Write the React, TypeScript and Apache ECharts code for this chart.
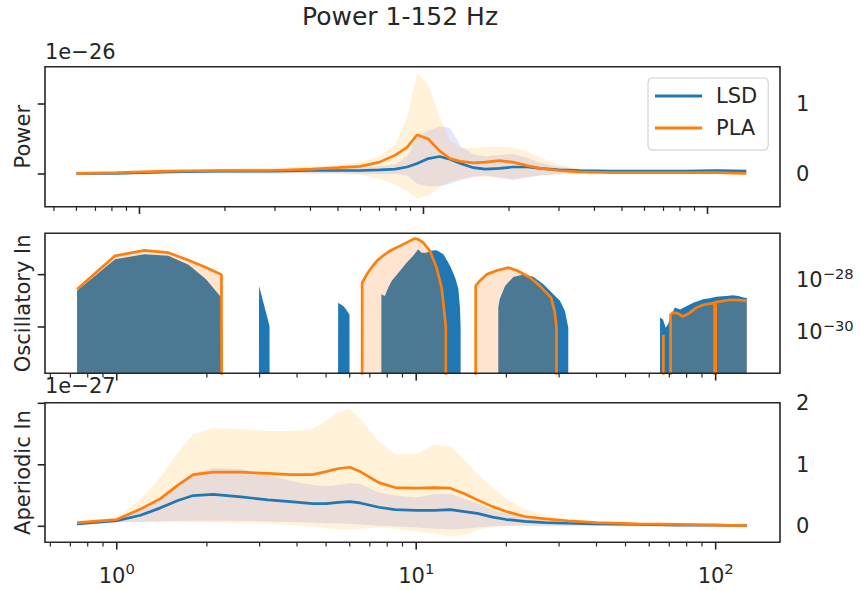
import React, { useEffect, useRef } from 'react';
import * as echarts from 'echarts';

// ---- Power spectrum panel (values in units of 1e-26) ----
const POWER_FREQ = [0.6, 0.83, 1.27, 1.9, 2.85, 4.05, 5.0, 6.0, 7.0, 7.95, 8.75, 9.5, 10.4, 11.4, 12.4, 13.5, 15.0, 16.5, 18.5, 20.6, 23.2, 25.8, 30.0, 35.3, 46.0, 62.0, 84.5, 107.0, 137.0];
const POWER_LSD = [0.01, 0.01, 0.03, 0.04, 0.04, 0.05, 0.05, 0.05, 0.06, 0.07, 0.10, 0.15, 0.22, 0.25, 0.21, 0.15, 0.09, 0.07, 0.08, 0.10, 0.10, 0.08, 0.06, 0.05, 0.04, 0.04, 0.04, 0.05, 0.04];
const POWER_LSD_LO = [0.0, 0.0, 0.01, 0.01, 0.01, 0.01, 0.01, 0.0, 0.0, 0.0, -0.02, -0.14, -0.18, -0.17, -0.14, -0.09, -0.04, -0.02, -0.05, -0.09, -0.05, -0.02, 0.0, 0.01, 0.01, 0.01, 0.01, 0.01, 0.01];
const POWER_LSD_HI = [0.02, 0.02, 0.04, 0.06, 0.06, 0.07, 0.08, 0.09, 0.11, 0.14, 0.25, 0.52, 0.62, 0.68, 0.66, 0.40, 0.28, 0.25, 0.27, 0.29, 0.23, 0.16, 0.10, 0.07, 0.06, 0.06, 0.06, 0.07, 0.06];
const POWER_PLA = [0.01, 0.02, 0.04, 0.05, 0.05, 0.07, 0.09, 0.11, 0.17, 0.27, 0.38, 0.56, 0.50, 0.33, 0.22, 0.18, 0.16, 0.17, 0.19, 0.17, 0.12, 0.08, 0.05, 0.03, 0.02, 0.02, 0.02, 0.02, 0.01];
const POWER_PLA_LO = [0.0, 0.0, 0.01, 0.01, 0.0, 0.0, 0.0, -0.01, -0.07, -0.15, -0.24, -0.35, -0.31, -0.19, -0.11, -0.07, -0.04, -0.04, -0.06, -0.06, -0.04, -0.02, -0.01, 0.0, 0.0, 0.0, 0.0, 0.0, -0.01];
const POWER_PLA_HI = [0.02, 0.03, 0.06, 0.08, 0.09, 0.11, 0.13, 0.17, 0.25, 0.42, 0.80, 1.44, 1.28, 0.82, 0.48, 0.37, 0.37, 0.39, 0.39, 0.38, 0.32, 0.24, 0.13, 0.08, 0.05, 0.04, 0.04, 0.04, 0.03];

// ---- Oscillatory component (log10 of power; null = no peak, zero power) ----
const OSC_LSD_FREQ = [
  0.737, 0.987, 1.237, 1.487, 1.737, 1.987, 2.237, 2.487,
  2.737, 2.987, 3.237, 3.487,
  5.237, 5.487, 5.737, 5.987, 6.237,
  7.5, 7.65, 7.86, 8.06, 8.3, 8.63, 9.3, 9.77, 10.16, 10.42, 10.83, 11.1, 11.7, 12.33, 12.96, 13.48, 13.83, 14.0, 14.07, 14.2,
  18.6, 18.8, 19.0, 19.8, 21.1, 22.8, 24.6, 26.6, 28.7, 30.2, 31.4, 32.2, 32.6,
  64.5, 65.2, 66.7, 68.1, 69.3, 71.2, 73.1, 76.1, 80.1, 84.2, 90.8, 95.5, 100.5, 108.5, 114.2, 119.0, 124.9, 127.0,
];
const OSC_LSD_LOG10 = [
  -28.62, -27.41, -27.22, -27.28, -27.62, -28.18, -28.88, null,
  null, -28.43, -29.96, null,
  null, -29.07, -29.22, -29.52, null,
  null, -28.75, -28.82, -28.5, -28.22, -27.99, -27.54, -27.28, -27.03, -27.16, -27.16, -27.09, -27.07, -27.22, -27.65, -28.1, -28.55, -29.25, -30.0, null,
  null, -29.26, -28.94, -28.43, -28.09, -27.99, -28.08, -28.37, -28.75, -29.0, -29.4, -30.03, null,
  null, -29.64, -29.71, -30.03, -29.9, -29.52, -29.26, -29.33, -29.2, -29.07, -28.94, -28.9, -28.84, -28.82, -28.79, -28.82, -28.88, -28.88,
];
const OSC_PLA_FREQ = [
  0.737, 0.987, 1.237, 1.487, 1.737, 1.987, 2.237, 2.487,
  6.5, 6.6, 6.84, 7.1, 7.38, 7.8, 8.17, 8.83, 9.53, 9.89, 10.2, 10.56, 11.11, 11.7, 12.16, 12.4, 12.56, 12.7,
  15.6, 15.8, 16.3, 17.2, 18.6, 20.3, 21.7, 24.0, 25.9, 28.2, 29.0, 29.4, 29.7,
  66.6, 66.9, 67.2,
  70.3, 70.7, 72.0, 74.5, 77.7, 81.6, 86.0, 91.0, 99.2, 99.6, 100.0, 104.0, 112.0, 120.0, 127.0,
];
const OSC_PLA_LOG10 = [
  -28.56, -27.28, -27.07, -27.16, -27.45, -27.73, -28.0, null,
  null, -28.31, -27.99, -27.72, -27.48, -27.25, -27.09, -26.9, -26.71, -26.62, -26.66, -26.78, -27.09, -27.73, -28.5, -29.38, -30.0, null,
  null, -28.43, -28.24, -27.99, -27.84, -27.73, -27.84, -28.11, -28.43, -28.88, -29.4, -30.0, null,
  null, -30.3, null,
  null, -29.53, -29.45, -29.47, -29.6, -29.47, -29.27, -29.15, -29.08, null, -29.05, -29.02, -28.96, -28.97, -29.0,
];

// ---- Aperiodic component (values in units of 1e-27) ----
const APER_FREQ = [0.737, 1.0, 1.2, 1.4, 1.6, 1.8, 2.1, 2.6, 3.2, 3.8, 4.5, 5.0, 5.5, 6.0, 6.5, 7.5, 8.5, 10, 11.5, 13, 14.5, 16, 18, 20, 23, 27, 32, 40, 55, 75, 100, 127];
const APER_LSD = [0.04, 0.09, 0.18, 0.30, 0.42, 0.50, 0.52, 0.48, 0.43, 0.40, 0.37, 0.37, 0.39, 0.40, 0.38, 0.31, 0.27, 0.26, 0.26, 0.27, 0.24, 0.21, 0.15, 0.11, 0.08, 0.06, 0.05, 0.04, 0.03, 0.02, 0.02, 0.01];
const APER_LSD_LO = [0.02, 0.06, 0.07, 0.08, 0.09, 0.09, 0.09, 0.09, 0.08, 0.07, 0.06, 0.05, 0.05, 0.04, 0.03, 0.01, 0.0, -0.02, -0.04, -0.05, -0.04, -0.02, 0.0, 0.01, 0.01, 0.01, 0.01, 0.01, 0.01, 0.0, 0.0, 0.0];
const APER_LSD_HI = [0.06, 0.12, 0.28, 0.48, 0.68, 0.86, 0.95, 0.93, 0.83, 0.74, 0.67, 0.65, 0.67, 0.70, 0.69, 0.55, 0.50, 0.47, 0.52, 0.53, 0.45, 0.37, 0.27, 0.20, 0.14, 0.10, 0.07, 0.05, 0.04, 0.03, 0.02, 0.02];
const APER_PLA = [0.06, 0.11, 0.28, 0.45, 0.67, 0.84, 0.88, 0.88, 0.86, 0.84, 0.84, 0.89, 0.94, 0.96, 0.89, 0.71, 0.63, 0.62, 0.63, 0.62, 0.53, 0.43, 0.32, 0.24, 0.16, 0.12, 0.09, 0.06, 0.04, 0.03, 0.02, 0.01];
const APER_PLA_LO = [0.03, 0.07, 0.08, 0.07, 0.07, 0.06, 0.06, 0.05, 0.04, 0.02, 0.0, -0.03, -0.05, -0.05, -0.04, -0.02, -0.04, -0.08, -0.12, -0.16, -0.14, -0.06, -0.01, 0.0, 0.0, 0.0, 0.0, 0.0, 0.0, 0.0, 0.0, 0.0];
const APER_PLA_HI = [0.08, 0.14, 0.44, 0.80, 1.20, 1.50, 1.60, 1.58, 1.55, 1.55, 1.58, 1.72, 1.86, 1.91, 1.75, 1.38, 1.17, 1.18, 1.33, 1.30, 1.08, 0.85, 0.63, 0.45, 0.28, 0.18, 0.12, 0.08, 0.05, 0.03, 0.03, 0.02];

// ---- Ticks ----
const X_MAJOR = [1, 10, 100];
const X_MINOR = [0.5, 0.6, 0.7, 0.8, 0.9, 2, 3, 4, 5, 6, 7, 8, 9, 20, 30, 40, 50, 60, 70, 80, 90];
const POWER_TICKS = [0, 1];
const OSC_TICK_EXP = [-30, -28];
const APER_TICKS = [0, 1, 2];

// ---- Layout / style ----
const LEFT = 45;
const WIDTH = 735;
const PANELS = [
  { top: 66.7, height: 140 },
  { top: 233.3, height: 140 },
  { top: 402.7, height: 139.6 },
];
const X_RANGES: [number, number][] = [[0.465, 180], [0.576, 164], [0.576, 164]];
const OSC_MIN = Math.pow(10, -31.77);
const OSC_MAX = Math.pow(10, -26.42);
const BLUE = '#1f77b4';
const ORANGE = '#ff7f0e';
const BLUE_BAND = 'rgba(0,0,255,0.1)';
const ORANGE_BAND = 'rgba(255,165,0,0.15)';
const INK = '#262626';
const FONT = "'DejaVu Sans', sans-serif";
const FLOOR = 1e-300; // zero power on a log axis is pushed far below the visible range

const pairs = (xs: number[], ys: number[]) => xs.map((x, i) => [x, ys[i]]);
const powers = (xs: number[], lg: (number | null)[]) =>
  xs.map((x, i) => [x, lg[i] === null ? FLOOR : Math.pow(10, lg[i] as number)]);

// shaded spread between a lower and an upper curve
function band(name: string, idx: number, freq: number[], lo: number[], hi: number[], fill: string) {
  return {
    type: 'custom',
    name,
    xAxisIndex: idx,
    yAxisIndex: idx,
    silent: true,
    clip: true,
    z: 1,
    data: freq.map((f, i) => [f, lo[i], hi[i]]),
    encode: { x: 0, y: [1, 2] },
    renderItem: (params: any, api: any) => {
      if (params.dataIndex !== 0) return null;
      const upper = freq.map((f, i) => api.coord([f, hi[i]]));
      const lower = freq.map((f, i) => api.coord([f, lo[i]])).reverse();
      return { type: 'polygon', shape: { points: upper.concat(lower) }, style: { fill, stroke: null } };
    },
  };
}

// filled region from the bottom of the log axis up to the curve
function oscFill(name: string, pts: number[][], fill: string, opacity: number, z: number) {
  return {
    type: 'custom',
    name,
    xAxisIndex: 1,
    yAxisIndex: 1,
    silent: true,
    clip: true,
    z,
    data: pts,
    encode: { x: 0, y: 1 },
    renderItem: (params: any, api: any) => {
      if (params.dataIndex !== 0) return null;
      const curve = pts.map((p) => api.coord(p));
      const start = api.coord([pts[0][0], OSC_MIN]);
      const end = api.coord([pts[pts.length - 1][0], OSC_MIN]);
      return {
        type: 'polygon',
        shape: { points: [start, ...curve, end] },
        style: { fill, opacity, stroke: null },
      };
    },
  };
}

function meanLine(name: string, idx: number, data: number[][], color: string) {
  return {
    type: 'line',
    name,
    xAxisIndex: idx,
    yAxisIndex: idx,
    data,
    symbol: 'none',
    showSymbol: false,
    silent: true,
    z: 3,
    lineStyle: { color, width: 2.7 },
    itemStyle: { color },
  };
}

function buildOption() {
  const oscLsd = powers(OSC_LSD_FREQ, OSC_LSD_LOG10);
  const oscPla = powers(OSC_PLA_FREQ, OSC_PLA_LOG10);
  return {
    animation: false,
    backgroundColor: '#ffffff',
    grid: PANELS.map((p) => ({ left: LEFT, top: p.top, width: WIDTH, height: p.height, show: false })),
    xAxis: X_RANGES.map((r, i) => ({ gridIndex: i, type: 'log', logBase: 10, min: r[0], max: r[1], show: false })),
    yAxis: [
      { gridIndex: 0, type: 'value', min: -0.467, max: 1.533, show: false },
      { gridIndex: 1, type: 'log', logBase: 10, min: OSC_MIN, max: OSC_MAX, show: false },
      { gridIndex: 2, type: 'value', min: -0.26, max: 2.01, show: false },
    ],
    legend: {
      data: [
        { name: 'LSD', icon: 'rect', itemStyle: { color: BLUE } },
        { name: 'PLA', icon: 'rect', itemStyle: { color: ORANGE } },
      ],
      orient: 'vertical',
      left: 648,
      top: 78,
      itemWidth: 47,
      itemHeight: 3,
      itemGap: 8,
      padding: [6, 11, 10, 7],
      selectedMode: false,
      backgroundColor: 'rgba(255,255,255,0.8)',
      borderColor: '#cccccc',
      borderWidth: 1,
      borderRadius: 4,
      textStyle: { fontSize: 21, fontFamily: FONT, color: INK, lineHeight: 24, padding: [0, 0, 0, 9] },
    },
    series: [
      band('LSD spread', 0, POWER_FREQ, POWER_LSD_LO, POWER_LSD_HI, BLUE_BAND),
      band('PLA spread', 0, POWER_FREQ, POWER_PLA_LO, POWER_PLA_HI, ORANGE_BAND),
      meanLine('LSD', 0, pairs(POWER_FREQ, POWER_LSD), BLUE),
      meanLine('PLA', 0, pairs(POWER_FREQ, POWER_PLA), ORANGE),
      oscFill('LSD oscillatory', oscLsd, BLUE, 1, 2),
      oscFill('PLA oscillatory', oscPla, ORANGE, 0.2, 2),
      meanLine('PLA', 1, oscPla, ORANGE),
      band('LSD spread', 2, APER_FREQ, APER_LSD_LO, APER_LSD_HI, BLUE_BAND),
      band('PLA spread', 2, APER_FREQ, APER_PLA_LO, APER_PLA_HI, ORANGE_BAND),
      meanLine('LSD', 2, pairs(APER_FREQ, APER_LSD), BLUE),
      meanLine('PLA', 2, pairs(APER_FREQ, APER_PLA), ORANGE),
    ],
  };
}

const RICH = {
  b: { fontSize: 21, fontFamily: FONT, fill: INK, lineHeight: 24, verticalAlign: 'bottom' },
  s: { fontSize: 14.7, fontFamily: FONT, fill: INK, lineHeight: 14, padding: [0, 0, 10, 0], verticalAlign: 'bottom' },
};

function buildDecor(chart: any) {
  const els: any[] = [];
  const line = (x1: number, y1: number, x2: number, y2: number, w: number) =>
    els.push({ type: 'line', silent: true, z: 100, shape: { x1, y1, x2, y2 }, style: { stroke: INK, lineWidth: w } });
  const text = (x: number, y: number, t: string, extra: any = {}) =>
    els.push({
      type: 'text',
      silent: true,
      z: 100,
      x,
      y,
      rotation: extra.rotation || 0,
      style: { text: t, fontFamily: FONT, fontSize: 21, fill: INK, align: 'left', verticalAlign: 'middle', ...(extra.style || {}) },
    });
  const sup = (x: number, y: number, exp: string, align: string) =>
    els.push({
      type: 'text',
      silent: true,
      z: 100,
      x,
      y,
      style: { text: `{b|10}{s|${exp}}`, rich: RICH, align, verticalAlign: 'middle', fontFamily: FONT, fontSize: 21, fill: INK },
    });

  PANELS.forEach((p, i) => {
    const bottom = p.top + p.height;
    els.push({
      type: 'rect',
      silent: true,
      z: 101,
      shape: { x: LEFT, y: p.top, width: WIDTH, height: p.height },
      style: { fill: 'rgba(0,0,0,0)', stroke: INK, lineWidth: 1.6 },
    });
    const [lo, hi] = X_RANGES[i];
    X_MAJOR.filter((v) => v >= lo && v <= hi).forEach((v) => {
      const x = chart.convertToPixel({ xAxisIndex: i }, v);
      line(x, bottom, x, bottom + 7.3, 1.6);
      if (i === 2) sup(x, 574, String(Math.round(Math.log10(v))), 'center');
    });
    X_MINOR.filter((v) => v >= lo && v <= hi).forEach((v) => {
      const x = chart.convertToPixel({ xAxisIndex: i }, v);
      line(x, bottom, x, bottom + 4.2, 1.2);
    });
  });

  POWER_TICKS.forEach((v) => {
    const y = chart.convertToPixel({ yAxisIndex: 0 }, v);
    line(LEFT - 7.3, y, LEFT, y, 1.6);
    text(796, y, String(v));
  });
  OSC_TICK_EXP.forEach((e) => {
    const y = chart.convertToPixel({ yAxisIndex: 1 }, Math.pow(10, e));
    line(LEFT - 7.3, y, LEFT, y, 1.6);
    sup(796, y + 4, '\u2212' + String(-e), 'left');
  });
  APER_TICKS.forEach((v) => {
    const y = chart.convertToPixel({ yAxisIndex: 2 }, v);
    line(LEFT - 7.3, y, LEFT, y, 1.6);
    text(796, y, String(v));
  });

  // scale factors, axis names and title
  text(LEFT, 52, '1e\u221226');
  text(LEFT, 386, '1e\u221227');
  const names = ['Power', 'Oscillatory In', 'Aperiodic In'];
  PANELS.forEach((p, i) =>
    text(23, p.top + p.height / 2, names[i], { rotation: Math.PI / 2, style: { align: 'center' } })
  );
  text(400, 16, 'Power 1-152 Hz', { style: { align: 'center', fontSize: 25 } });
  return els;
}

export default function App() {
  const ref = useRef<HTMLDivElement>(null);
  useEffect(() => {
    if (!ref.current) return;
    const chart = echarts.init(ref.current, null, { renderer: 'svg' });
    chart.setOption(buildOption() as any);
    chart.setOption({ graphic: { elements: buildDecor(chart) } } as any);
    return () => chart.dispose();
  }, []);
  return (
    <div
      ref={ref}
      style={{ position: 'fixed', left: 0, top: 0, width: 860, height: 590, background: '#ffffff' }}
    />
  );
}
